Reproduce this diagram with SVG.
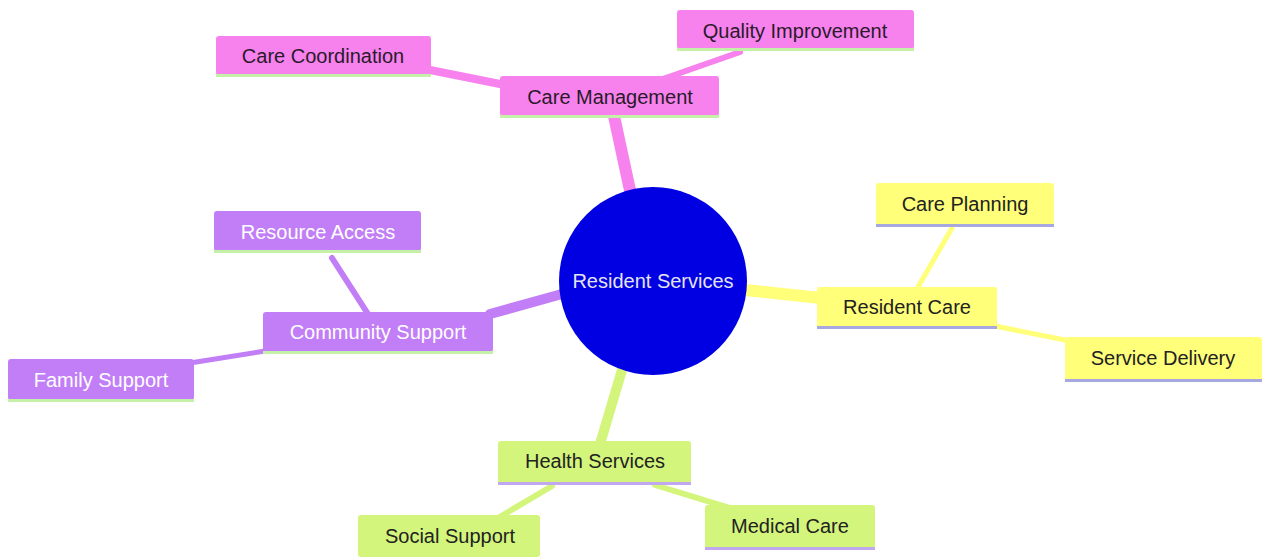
<svg xmlns="http://www.w3.org/2000/svg" width="1263" height="557" viewBox="0 0 1263 557">
<style>
text{font-family:"Liberation Sans",Arial,sans-serif;font-size:20px;text-anchor:middle;dominant-baseline:central}
.pink rect.b{fill:#f782ee}.pink .u{fill:#c4f0a8}.pink text{fill:#2a1a2a}
.yel rect.b{fill:#ffff7a}.yel .u{fill:#a8a8e0}.yel text{fill:#222}
.grn rect.b{fill:#d4f57c}.grn .u{fill:#c0a8f0}.grn text{fill:#222}
.pur rect.b{fill:#c27ef6}.pur .u{fill:#c4f0a8}.pur text{fill:#fff}
.e{fill:none;stroke-linecap:round}
.ep{stroke:#f782ee}.ey{stroke:#ffff7a}.eg{stroke:#d4f57c}.eu{stroke:#c27ef6}
</style>
<rect width="1263" height="557" fill="#fff"/>
<g id="connectors">
<line class="e ep" x1="631" y1="195" x2="614" y2="116" stroke-width="12"/>
<line class="e ep" x1="430" y1="70" x2="505" y2="85" stroke-width="8"/>
<line class="e ep" x1="740" y1="52" x2="660" y2="80" stroke-width="6"/>
<line class="e ey" x1="745" y1="290" x2="820" y2="298" stroke-width="12"/>
<line class="e ey" x1="918" y1="287" x2="952" y2="228" stroke-width="5"/>
<line class="e ey" x1="995" y1="326" x2="1070" y2="341" stroke-width="5"/>
<line class="e eu" x1="562" y1="294" x2="490" y2="314" stroke-width="10"/>
<line class="e eu" x1="332" y1="258" x2="368" y2="314" stroke-width="6"/>
<line class="e eu" x1="190" y1="363" x2="265" y2="351" stroke-width="5"/>
<line class="e eg" x1="622" y1="370" x2="600" y2="444" stroke-width="10"/>
<line class="e eg" x1="552" y1="486" x2="498" y2="518" stroke-width="6"/>
<line class="e eg" x1="655" y1="485" x2="730" y2="508" stroke-width="6"/>
</g>
<g id="root">
<circle cx="653" cy="281" r="94" fill="#0000e2"/>
<text x="653" y="281" fill="#e4e4f0">Resident Services</text>
</g>
<g id="care-management" class="pink">
<rect class="b" x="500" y="76" width="219" height="40" rx="3"/><rect class="u" x="500" y="115" width="219" height="3"/>
<text x="610" y="97">Care Management</text>
</g>
<g id="care-coordination" class="pink">
<rect class="b" x="216" y="36" width="215" height="39" rx="3"/><rect class="u" x="216" y="74" width="215" height="3"/>
<text x="323" y="56">Care Coordination</text>
</g>
<g id="quality-improvement" class="pink">
<rect class="b" x="677" y="10" width="237" height="39" rx="3"/><rect class="u" x="677" y="48" width="237" height="3"/>
<text x="795" y="31">Quality Improvement</text>
</g>
<g id="resident-care" class="yel">
<rect class="b" x="817" y="287" width="180" height="41" rx="3"/><rect class="u" x="817" y="326" width="180" height="3"/>
<text x="907" y="307">Resident Care</text>
</g>
<g id="care-planning" class="yel">
<rect class="b" x="876" y="183" width="178" height="43" rx="3"/><rect class="u" x="876" y="224" width="178" height="3"/>
<text x="965" y="204">Care Planning</text>
</g>
<g id="service-delivery" class="yel">
<rect class="b" x="1065" y="337" width="197" height="44" rx="3"/><rect class="u" x="1065" y="379" width="197" height="3"/>
<text x="1163" y="358">Service Delivery</text>
</g>
<g id="community-support" class="pur">
<rect class="b" x="263" y="312" width="230" height="40" rx="3"/><rect class="u" x="263" y="351" width="230" height="3"/>
<text x="378" y="332">Community Support</text>
</g>
<g id="resource-access" class="pur">
<rect class="b" x="214" y="211" width="207" height="40" rx="3"/><rect class="u" x="214" y="250" width="207" height="3"/>
<text x="318" y="232">Resource Access</text>
</g>
<g id="family-support" class="pur">
<rect class="b" x="8" y="359" width="186" height="41" rx="3"/><rect class="u" x="8" y="399" width="186" height="3"/>
<text x="101" y="380">Family Support</text>
</g>
<g id="health-services" class="grn">
<rect class="b" x="498" y="441" width="193" height="43" rx="3"/><rect class="u" x="498" y="482" width="193" height="3"/>
<text x="595" y="461">Health Services</text>
</g>
<g id="social-support" class="grn">
<rect class="b" x="358" y="515" width="182" height="42" rx="3"/>
<text x="450" y="536">Social Support</text>
</g>
<g id="medical-care" class="grn">
<rect class="b" x="705" y="505" width="170" height="44" rx="3"/><rect class="u" x="705" y="547" width="170" height="3"/>
<text x="790" y="526">Medical Care</text>
</g>
</svg>
